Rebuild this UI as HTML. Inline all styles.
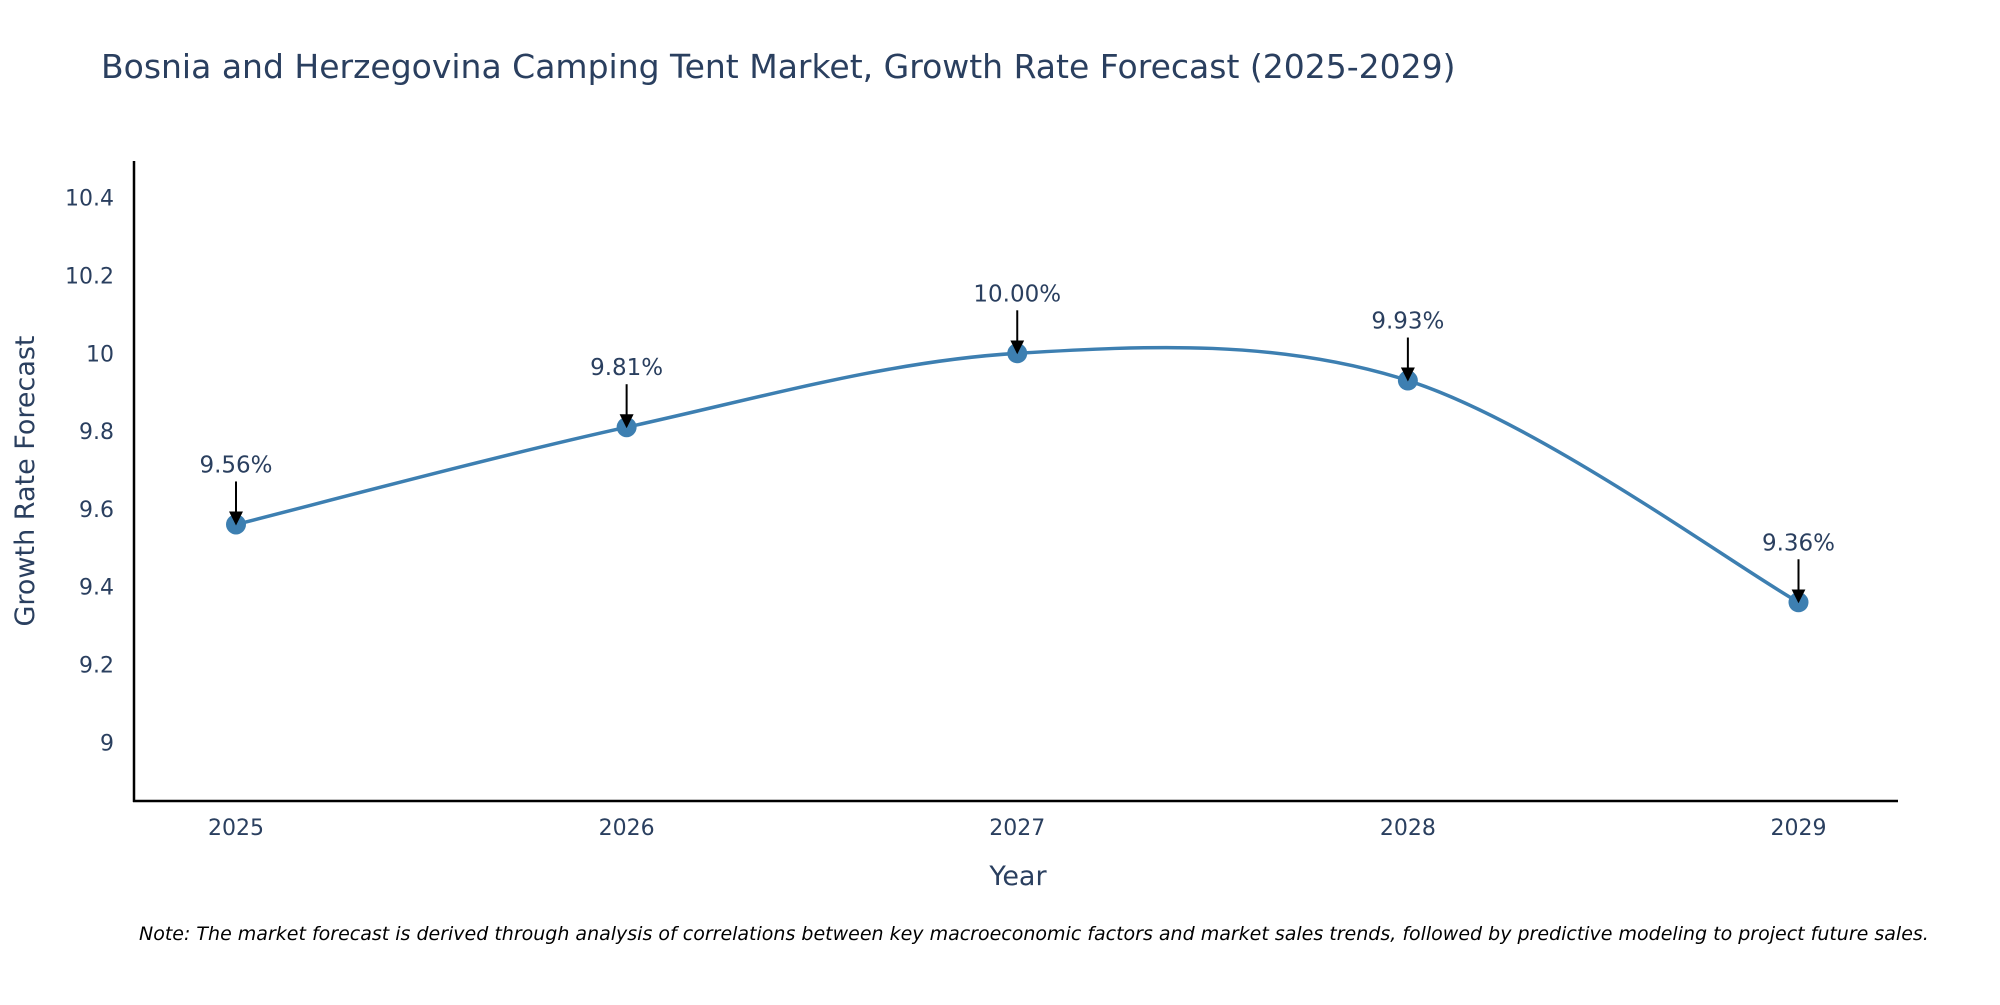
<!DOCTYPE html>
<html><head><meta charset="utf-8"><style>
body{margin:0;background:#fff;overflow:hidden;}
svg text{font-family:"DejaVu Sans","Liberation Sans",sans-serif;fill:#2a3f5f;}
</style></head><body>
<svg width="2000" height="1000" xmlns="http://www.w3.org/2000/svg">
<defs><marker id="ah" markerWidth="14" markerHeight="14" refX="12" refY="7" orient="auto" markerUnits="userSpaceOnUse" viewBox="0 0 14 14"><path d="M0,0 L14,7 L0,14 Z" fill="#000"/></marker></defs>
<text x="101" y="78" font-size="33">Bosnia and Herzegovina Camping Tent Market, Growth Rate Forecast (2025-2029)</text>
<g id="yt"></g>
<g id="xt"></g>
<line x1="134" y1="161" x2="134" y2="802" stroke="#000" stroke-width="2.5"/>
<line x1="133" y1="801" x2="1898" y2="801" stroke="#000" stroke-width="2.5"/>
<text transform="translate(34,481) rotate(-90)" text-anchor="middle" font-size="27">Growth Rate Forecast</text>
<text x="1018" y="885" text-anchor="middle" font-size="27">Year</text>
<path id="line" fill="none" stroke="#3d7fb1" stroke-width="3.5"/>
<g id="pts"></g>
<text x="139" y="940" font-size="19" font-style="italic" style="fill:#000">Note: The market forecast is derived through analysis of correlations between key macroeconomic factors and market sales trends, followed by predictive modeling to project future sales.</text>
</svg>
<script>
const years=[2025,2026,2027,2028,2029];
const values=[9.56,9.81,10.00,9.93,9.36];
const labels=["9.56%","9.81%","10.00%","9.93%","9.36%"];
const yTicks=[9,9.2,9.4,9.6,9.8,10,10.2,10.4];
const yTickLabels=["9","9.2","9.4","9.6","9.8","10","10.2","10.4"];
const NS="http://www.w3.org/2000/svg";
function xs(v){return 236+(v-2025)*(1798.5-236)/4;}
function ys(v){return 742.3-(v-9)*(742.3-197.7)/1.4;}
function mk(t,a,p){const e=document.createElementNS(NS,t);for(const k in a)e.setAttribute(k,a[k]);p.appendChild(e);return e;}
const yt=document.getElementById('yt');
yTicks.forEach((v,i)=>{const t=mk('text',{x:114,y:ys(v)+8,'text-anchor':'end','font-size':'22'},yt);


t.textContent=yTickLabels[i];});
const xt=document.getElementById('xt');
years.forEach(v=>{const t=mk('text',{x:xs(v),y:835,'text-anchor':'middle','font-size':'22'},xt);


t.textContent=v;});
const P=years.map((y,i)=>[xs(y),ys(values[i])]);
let d=`M${P[0][0]},${P[0][1]}`;
for(let i=0;i<P.length-1;i++){const p0=P[Math.max(0,i-1)],p1=P[i],p2=P[i+1],p3=P[Math.min(P.length-1,i+2)];
const k=1/6;
d+=` C${p1[0]+(p2[0]-p0[0])*k},${p1[1]+(p2[1]-p0[1])*k} ${p2[0]-(p3[0]-p1[0])*k},${p2[1]-(p3[1]-p1[1])*k} ${p2[0]},${p2[1]}`;}
document.getElementById('line').setAttribute('d',d);
const g=document.getElementById('pts');
P.forEach((p,i)=>{
const c=mk('circle',{cx:p[0],cy:p[1],r:10,fill:'#3d7fb1'},g);


const a=mk('line',{x1:p[0],y1:p[1]-43,x2:p[0],y2:p[1]-1,stroke:'#000','stroke-width':2,'marker-end':'url(#ah)'},g);


const t=mk('text',{x:p[0],y:p[1]-52,'text-anchor':'middle','font-size':'23'},g);


t.textContent=labels[i];});
</script>
</body></html>
